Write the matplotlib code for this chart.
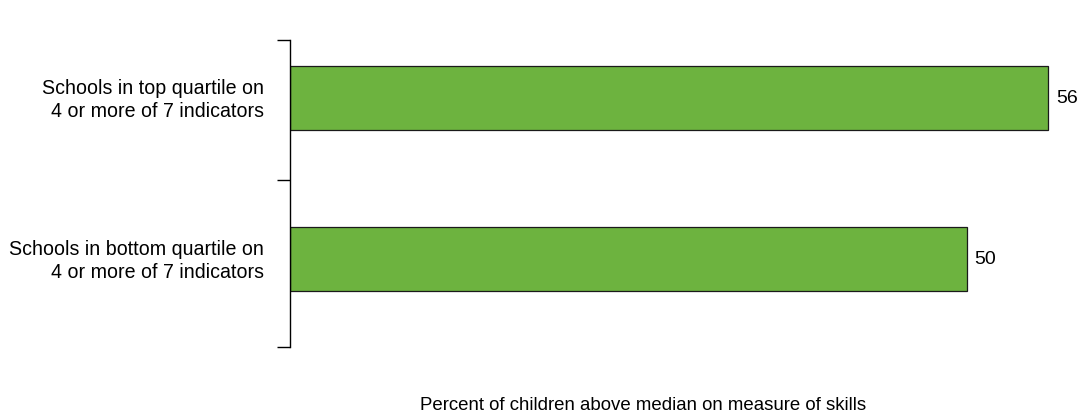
import matplotlib.pyplot as plt
from matplotlib.transforms import ScaledTranslation

plt.rcParams['font.family'] = ['Liberation Sans', 'DejaVu Sans']

categories = ['Schools in top quartile on\n4 or more of 7 indicators',
              'Schools in bottom quartile on\n4 or more of 7 indicators']
values = [56, 50]
xlabel = 'Percent of children above median on measure of skills'

fig = plt.figure(figsize=(10.8, 4.14), dpi=100)
W, H = 1080, 414
# axes box in pixels: left 290, right 1080, top 41, bottom 348
ax = fig.add_axes([290 / W, 1 - 348 / H, (1080 - 290) / W, (348 - 41) / H])

ypos = list(range(len(values)))
ax.barh(ypos, values, height=0.4, color='#6db33f', edgecolor='#1a1a1a', linewidth=0.9)
for y, v in zip(ypos, values):
    ax.text(v + 0.6, y, str(v), va='center', ha='left', fontsize=14)

ax.set_xlim(0, 790 / 13.53)
ax.set_ylim(1.547, -0.36)
ax.set_yticks(ypos)
ax.set_yticklabels(categories, fontsize=14.1, linespacing=1.3)
ax.tick_params(axis='y', which='major', length=0, pad=19)
ax.set_yticks([-0.36, 0.509, 1.547], minor=True)
ax.tick_params(axis='y', which='minor', length=9.4, width=1, color='black')
shift = ScaledTranslation(0, 3 / 100, fig.dpi_scale_trans)
for lab in ax.get_yticklabels():
    lab.set_horizontalalignment('right')
    lab.set_multialignment('right')
    lab.set_transform(lab.get_transform() + shift)

for s in ['top', 'right', 'bottom']:
    ax.spines[s].set_visible(False)
ax.spines['left'].set_linewidth(1)
ax.set_xticks([])

fig.text(643 / W, 1 - 406 / H, xlabel, ha='center', va='center', fontsize=13.4)

fig.savefig('out.png', dpi=100)
